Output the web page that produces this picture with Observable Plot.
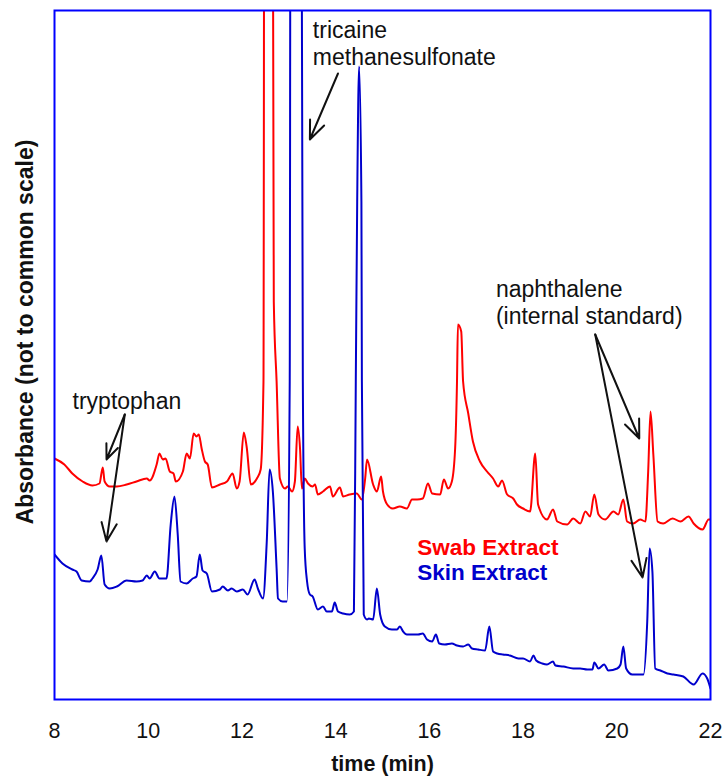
<!DOCTYPE html>
<html>
<head>
<meta charset="utf-8">
<script src="https://cdn.jsdelivr.net/npm/d3@7"></script>
<script src="https://cdn.jsdelivr.net/npm/@observablehq/plot@0.6"></script>
<style>
  html, body { margin: 0; padding: 0; background: #fff; }
  #chart svg { display: block; }
</style>
</head>
<body>
<div id="chart"></div>
<script>
// ---- Data (arbitrary absorbance units) ----
const swabTime = [8.00,8.21,8.38,8.60,8.81,8.96,9.03,9.07,9.18,9.33,9.54,9.75,9.97,10.03,10.18,10.24,10.31,10.37,10.46,10.54,10.59,10.74,10.82,10.89,10.97,11.03,11.08,11.14,11.21,11.27,11.36,11.53,11.68,11.80,11.89,11.95,12.04,12.10,12.19,12.32,12.40,12.46,12.48,12.65,12.68,12.74,12.81,12.92,12.98,13.07,13.13,13.19,13.24,13.28,13.34,13.41,13.51,13.56,13.62,13.73,13.88,13.94,14.09,14.16,14.30,14.45,14.56,14.63,14.67,14.80,14.88,14.97,15.01,15.10,15.22,15.37,15.52,15.63,15.74,15.86,15.97,16.06,16.23,16.31,16.40,16.48,16.55,16.59,16.61,16.68,16.72,16.83,16.93,17.08,17.23,17.36,17.47,17.55,17.66,17.79,17.87,18.00,18.15,18.26,18.32,18.51,18.64,18.73,18.94,19.07,19.22,19.33,19.43,19.52,19.61,19.75,19.93,20.03,20.14,20.22,20.35,20.50,20.61,20.67,20.72,20.78,20.87,20.99,21.19,21.36,21.53,21.64,21.83,21.96,22.00];
const swabAbs = [241,235,226,218,214,216,232,218,213,213,215,218,221,219,235,246,240,241,228,226,218,228,246,241,266,263,265,251,238,235,212,215,218,226,211,218,267,253,215,221,230,318,1000,1000,398,318,221,211,213,208,218,273,251,211,221,216,213,215,205,208,213,203,212,203,205,206,200,221,240,215,208,223,208,195,191,193,191,200,200,201,216,206,205,220,211,218,251,318,375,368,318,286,258,238,228,221,213,219,205,201,195,191,188,246,195,180,190,178,175,181,176,188,183,205,185,180,188,185,200,178,176,180,178,228,288,245,178,176,181,178,183,176,170,180,180];

const skinTime = [8.00,8.17,8.38,8.47,8.58,8.75,8.81,8.92,9.00,9.07,9.18,9.33,9.54,9.75,9.88,9.97,10.03,10.14,10.24,10.39,10.48,10.56,10.63,10.69,10.82,10.95,11.03,11.10,11.16,11.25,11.36,11.53,11.59,11.70,11.78,11.89,12.02,12.12,12.27,12.34,12.45,12.53,12.59,12.66,12.74,12.77,12.87,12.96,13.02,13.04,13.26,13.30,13.34,13.39,13.45,13.51,13.62,13.73,13.81,13.92,13.98,14.05,14.16,14.30,14.39,14.43,14.46,14.50,14.55,14.56,14.60,14.67,14.71,14.80,14.88,14.95,15.05,15.20,15.31,15.37,15.44,15.52,15.76,15.86,15.95,16.06,16.14,16.21,16.33,16.48,16.59,16.72,16.83,16.91,17.04,17.19,17.28,17.36,17.45,17.57,17.72,17.90,18.00,18.15,18.22,18.28,18.41,18.51,18.64,18.69,18.86,19.07,19.22,19.37,19.48,19.52,19.61,19.73,19.82,20.01,20.08,20.14,20.20,20.33,20.57,20.65,20.70,20.76,20.82,20.93,21.08,21.21,21.42,21.64,21.83,21.93,22.00];
const skinAbs = [145,136,130,128,119,118,121,130,144,115,111,113,119,118,119,124,121,128,121,121,175,203,165,118,116,121,123,145,129,126,108,110,113,109,111,108,110,105,120,111,101,158,230,208,131,101,98,98,318,1000,1000,318,151,118,105,103,90,93,88,88,97,88,86,85,88,318,498,633,498,318,85,80,81,80,111,85,73,70,70,73,68,65,65,66,60,58,65,56,55,56,54,53,55,51,50,49,73,48,46,45,44,41,41,38,44,39,36,35,38,34,33,31,31,30,30,37,31,35,29,31,35,53,31,25,25,78,151,128,31,29,26,25,23,15,26,21,11];

const xTicks = [8, 10, 12, 14, 16, 18, 20, 22];
const xLabel = "time (min)";
const yLabel = "Absorbance (not to common scale)";

const seriesNames = ["Swab Extract", "Skin Extract"];
const seriesColors = ["#ff0000", "#0000cc"];
const legendTime = [15.74, 15.74];
const legendAbs = [152, 127];

const noteText = ["tryptophan", "tricaine", "methanesulfonate", "naphthalene", "(internal standard)"];
const noteTime = [8.385, 13.514, 13.514, 17.42, 17.42];
const noteAbs = [298, 669, 642, 410, 383];

const arrowFromTime = [9.50, 9.50, 14.05, 19.54, 19.54];
const arrowFromAbs  = [285, 285, 626, 365, 365];
const arrowToTime   = [9.11, 9.11, 13.45, 20.48, 20.55];
const arrowToAbs    = [240, 158, 560, 261, 122];

// ---- Build tables ----
const swab = swabTime.map((t, i) => ({t, v: swabAbs[i]}));
const skin = skinTime.map((t, i) => ({t, v: skinAbs[i]}));
const legend = seriesNames.map((name, i) => ({name, color: seriesColors[i], t: legendTime[i], v: legendAbs[i]}));
const notes = noteText.map((text, i) => ({text, t: noteTime[i], v: noteAbs[i]}));
const arrows = arrowFromTime.map((t1, i) => ({t1, v1: arrowFromAbs[i], t2: arrowToTime[i], v2: arrowToAbs[i]}));

const chart = Plot.plot({
  width: 725,
  height: 778,
  marginLeft: 54,
  marginRight: 15,
  marginTop: 10,
  marginBottom: 79,
  style: {fontFamily: "'Liberation Sans', Arial, Helvetica, sans-serif", background: "#fff", color: "#111"},
  x: {domain: [8, 22], axis: null},
  y: {domain: [0, 689], axis: null},
  marks: [
    Plot.axisX({ticks: xTicks, tickSize: 0, tickPadding: 23, fontSize: 21.5, tickFormat: d => String(d), label: null, fill: "#111"}),
    Plot.line(swab, {x: "t", y: "v", stroke: seriesColors[0], strokeWidth: 2, curve: "monotone-x", clip: true}),
    Plot.line(skin, {x: "t", y: "v", stroke: seriesColors[1], strokeWidth: 2, curve: "monotone-x", clip: true}),
    Plot.frame({stroke: "#0000ff", strokeWidth: 2}),
    Plot.arrow(arrows, {x1: "t1", y1: "v1", x2: "t2", y2: "v2", stroke: "#111", strokeWidth: 2, headLength: 15, headAngle: 45, insetStart: 0, insetEnd: 0}),
    Plot.text(notes, {x: "t", y: "v", text: "text", textAnchor: "start", lineAnchor: "middle", fontSize: 23, fill: "#111"}),
    Plot.text(legend, {x: "t", y: "v", text: "name", fill: "color", textAnchor: "start", lineAnchor: "middle", fontSize: 22.5, fontWeight: "bold"}),
    Plot.text([xLabel], {frameAnchor: "bottom", dy: 65, textAnchor: "middle", lineAnchor: "middle", text: d => d, fontSize: 21.5, fontWeight: "bold", fill: "#111"}),
    Plot.text([yLabel], {frameAnchor: "left", dx: -29, dy: -23, rotate: -90, textAnchor: "middle", lineAnchor: "middle", text: d => d, fontSize: 23, fontWeight: "bold", fill: "#111"})
  ]
});
document.getElementById("chart").appendChild(chart);
</script>
</body>
</html>
